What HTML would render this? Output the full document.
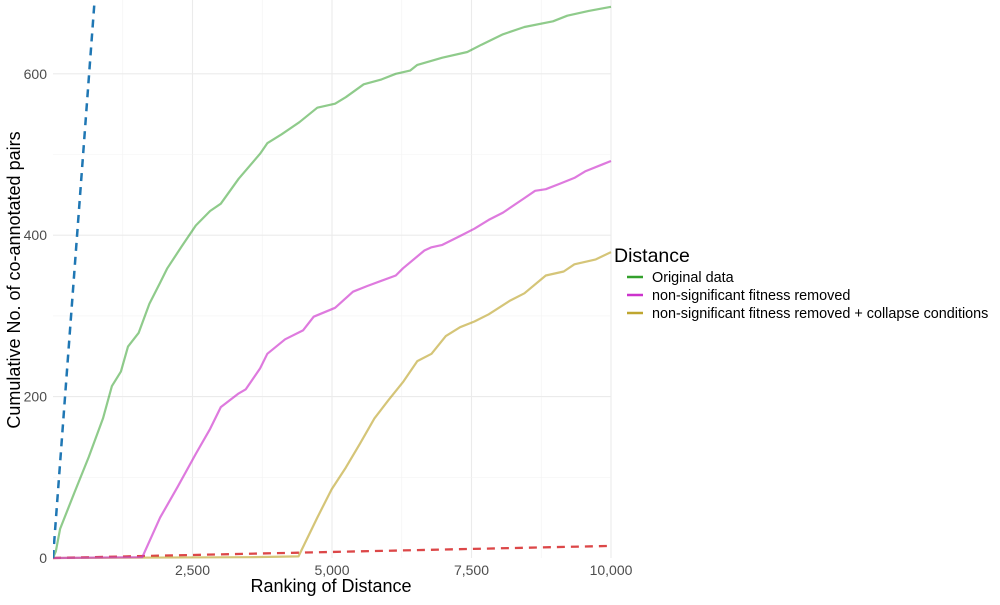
<!DOCTYPE html>
<html><head><meta charset="utf-8"><style>
body{margin:0;background:#fff;font-family:"Liberation Sans",Arial,sans-serif}
svg text{font-family:"Liberation Sans",Arial,sans-serif}
</style></head><body>
<svg id="chart" width="1000" height="600" viewBox="0 0 1000 600">
<g id="grid"></g>
<g id="series"></g>
<g id="axes"></g>
<text x="331" y="592" font-size="18" text-anchor="middle" fill="#000">Ranking of Distance</text>
<text transform="translate(20,280) rotate(-90)" font-size="18" text-anchor="middle" fill="#000">Cumulative No. of co-annotated pairs</text>
<g>
<text x="614" y="262" font-size="19.5" fill="#000">Distance</text>
<g><line x1="627" y1="277" x2="643" y2="277" stroke="#33a02c" stroke-width="2.5"/><text x="652" y="282" font-size="14.4" fill="#000">Original data</text></g>
<g><line x1="627" y1="295" x2="643" y2="295" stroke="#cc33cc" stroke-width="2.5"/><text x="652" y="300" font-size="14.4" fill="#000">non-significant fitness removed</text></g>
<g><line x1="627" y1="313" x2="643" y2="313" stroke="#bfa630" stroke-width="2.5"/><text x="652" y="318" font-size="14.4" fill="#000">non-significant fitness removed + collapse conditions</text></g>
</g>
</svg>
<script>
const xTicks=[2500,5000,7500,10000];
const xTickLabels=["2,500","5,000","7,500","10,000"];
const yTicks=[0,200,400,600];
const yTickLabels=["0","200","400","600"];
const origX=[0,51,128,384,640,896,1056,1216,1344,1536,1728,1920,2048,2304,2560,2816,3008,3328,3712,3840,4096,4416,4736,5056,5248,5568,5888,6144,6400,6528,6976,7424,7680,8064,8448,8960,9216,9600,10000];
const origY=[0,8,36,81,125,173,213,231,262,279,315,341,359,386,412,430,439,470,501,514,525,540,558,563,571,587,593,600,604,611,620,627,636,649,658,665,672,678,683];
const nsX=[0,1600,1920,2240,2560,2816,3008,3328,3456,3712,3840,4160,4480,4672,5056,5376,5632,6144,6272,6656,6784,6976,7296,7552,7808,8064,8448,8640,8832,9088,9344,9536,9856,10000];
const nsY=[0,1,50,89,129,160,187,204,209,235,253,271,282,299,310,330,337,350,359,381,385,388,399,408,419,428,446,455,457,464,471,479,488,492];
const colX=[0,3500,4400,4736,4992,5248,5504,5760,6016,6272,6528,6784,7040,7296,7552,7808,8192,8448,8832,9152,9344,9728,10000];
const colY=[0,1,2,50,85,112,142,173,196,218,244,253,275,286,293,302,319,328,350,355,364,370,379];
const diagX=[0,745];
const diagY=[0,691];
const baseX=[0,10000];
const baseY=[0,15];
const X0=53,XS=0.0558,Y0=558,YS=0.807;
const sx=v=>X0+v*XS, sy=v=>Y0-v*YS;
const NS="http://www.w3.org/2000/svg";
function mk(t,a,p){const e=document.createElementNS(NS,t);for(const k in a)e.setAttribute(k,a[k]);p.appendChild(e);return e;}
const grid=document.getElementById('grid'),axes=document.getElementById('axes'),ser=document.getElementById('series');
for(let v=1250;v<=10000;v+=1250){const maj=v%2500===0;
const l=mk('line',{x1:sx(v),x2:sx(v),y1:0,y2:558,stroke:maj?'#ebebeb':'#f3f3f3','stroke-width':maj?1.1:0.6},grid);

}
for(let v=100;v<=600;v+=100){const maj=v%200===0;
const l=mk('line',{x1:53,x2:611,y1:sy(v),y2:sy(v),stroke:maj?'#ebebeb':'#f3f3f3','stroke-width':maj?1.1:0.6},grid);

}
xTicks.forEach((v,i)=>{const t=mk('text',{x:sx(v),y:575,'font-size':14,'text-anchor':'middle',fill:'#4d4d4d'},axes);t.textContent=xTickLabels[i];

});
yTicks.forEach((v,i)=>{const t=mk('text',{x:47,y:sy(v)+5,'font-size':14,'text-anchor':'end',fill:'#4d4d4d'},axes);t.textContent=yTickLabels[i];

});
const cp=mk('clipPath',{id:'clip'},ser);mk('rect',{x:53,y:0,width:560,height:560},cp);
function path(xs,ys,color,w,op,dash,name){let d='';xs.forEach((x,i)=>{d+=(i?'L':'M')+sx(x).toFixed(1)+','+sy(ys[i]).toFixed(1);});
const a={d:d,fill:'none',stroke:color,'stroke-width':w,'stroke-opacity':op,'clip-path':'url(#clip)','stroke-linejoin':'round'};if(dash)a['stroke-dasharray']=dash;
const p=mk('path',a,ser);

}
path(baseX,baseY,'#d62728',2.3,0.85,'8,6','baseline-random-line');
path(colX,colY,'#bfa630',2.2,0.65,null,'collapse-conditions-line');
path(nsX,nsY,'#cc33cc',2.2,0.65,null,'nonsig-removed-line');
path(origX,origY,'#33a02c',2.2,0.55,null,'original-data-line');
path(diagX,diagY,'#1f77b4',2.5,1,'8,6','perfect-line');
</script>
</body></html>
